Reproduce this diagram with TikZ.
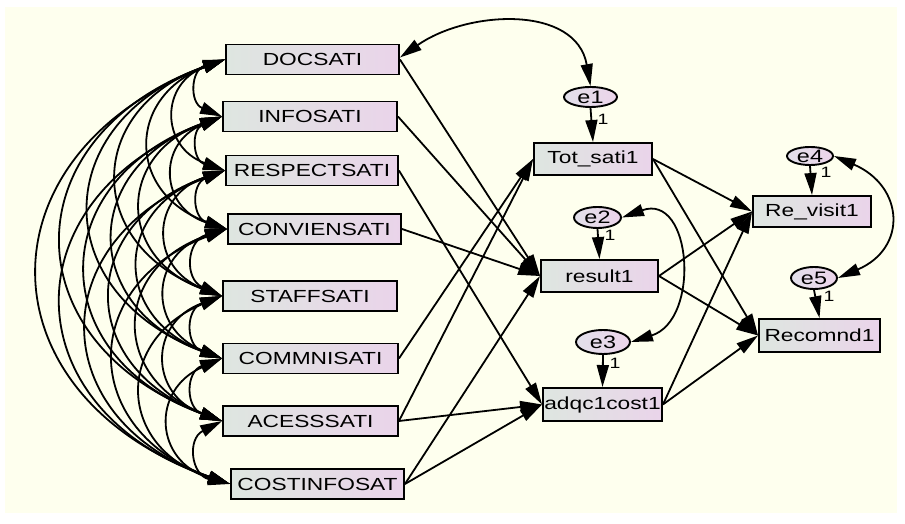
\documentclass[tikz,border=0pt]{standalone}
\usepackage{fontspec}
\usepackage{graphicx}
\setmainfont{Liberation Sans}
\usetikzlibrary{arrows.meta,shapes.geometric}
\definecolor{bg}{RGB}{254,255,238}
\definecolor{boxL}{RGB}{222,230,224}
\definecolor{boxR}{RGB}{234,212,234}
\definecolor{ellL}{RGB}{226,224,234}
\definecolor{ellR}{RGB}{236,212,234}
\newcommand\sx[1]{\scalebox{1.3}[1]{#1}}
\begin{document}
\begin{tikzpicture}[x=1pt,y=1pt,
  var/.style={draw=black, line width=1.9pt, left color=boxL, right color=boxR, minimum height=30pt, inner sep=0pt, font=\fontsize{17.5}{19}\selectfont},
  err/.style={ellipse, draw=black, line width=1.9pt, left color=ellL, right color=ellR, inner sep=0pt, font=\fontsize{18}{20}\selectfont},
  reg/.style={line width=1.8pt, -{Triangle[length=22pt,width=12pt]}},
  cov/.style={line width=1.8pt, {Triangle[length=22pt,width=12pt]}-{Triangle[length=22pt,width=12pt]}},
  one/.style={font=\fontsize{15}{16}\selectfont, inner sep=0pt}
]
\useasboundingbox (0,0) rectangle (905,524);
\fill[white] (0,0) rectangle (905,524);
\fill[bg] (5,11) rectangle (897,517);

% exogenous observed
\node[var, minimum width=173pt] (v1) at (312.5,464.5) {\sx{DOCSATI}};
\node[var, minimum width=174pt] (v2) at (310,407.5) {\sx{INFOSATI}};
\node[var, minimum width=172pt] (v3) at (312,353.5) {\sx{RESPECTSATI}};
\node[var, minimum width=173pt] (v4) at (314.5,295) {\sx{CONVIENSATI}};
\node[var, minimum width=174pt] (v5) at (310,228) {\sx{STAFFSATI}};
\node[var, minimum width=175pt] (v6) at (310.5,165.5) {\sx{COMMNISATI}};
\node[var, minimum width=175pt] (v7) at (310.5,103) {\sx{ACESSSATI}};
\node[var, minimum width=173pt] (v8) at (317.5,40) {\sx{COSTINFOSAT}};

% endogenous
\node[var, minimum width=118pt, minimum height=32pt] (tot) at (593,365) {\sx{Tot\_sati1}};
\node[var, minimum width=117pt, minimum height=32pt] (res) at (599.5,248) {\sx{result1}};
\node[var, minimum width=119pt, minimum height=33pt] (adq) at (602.5,119.5) {\sx{adqc1cost1}};
\node[var, minimum width=118pt, minimum height=31pt] (rev) at (812,312.5) {\sx{Re\_visit1}};
\node[var, minimum width=121pt, minimum height=33pt] (rec) at (819.5,188.5) {\sx{Recomnd1}};

% errors
\node[err, minimum width=53pt, minimum height=20pt] (e1) at (590.5,427) {\sx{e1}};
\node[err, minimum width=47pt, minimum height=21pt] (e2) at (597.5,306.5) {\sx{e2}};
\node[err, minimum width=54pt, minimum height=24pt] (e3) at (603,182) {\sx{e3}};
\node[err, minimum width=46pt, minimum height=18pt] (e4) at (810,368) {\sx{e4}};
\node[err, minimum width=46pt, minimum height=22pt] (e5) at (814,246) {\sx{e5}};

% covariances among exogenous
\foreach \i in {1,...,7}{
  \pgfmathtruncatemacro\s{\i+1}
  \foreach \j in {\s,...,8}{
    \draw[cov] (v\i.west) to[bend right=70, looseness=1.6] (v\j.west);
  }
}

% other covariances
\draw[cov] ([yshift=2pt]v1.east) to[out=35, in=100, looseness=1.1] (e1.north);
\draw[cov] (e2.east) .. controls +(70,25) and +(70,22) .. (e3.east);
\draw[cov] (e4.east) .. controls +(70,-30) and +(70,30) .. (e5.east);

% error paths
\draw[reg] (e1.south) -- (tot.north);
\draw[reg] (e2.south) -- (res.north);
\draw[reg] (e3.south) -- (adq.north);
\draw[reg] (e4.south) -- (rev.north);
\draw[reg] (e5.south) -- (rec.north);
\node[one] (l1) at (603,405) {\sx{1}};
\node[one] (l2) at (610,289) {\sx{1}};
\node[one] (l3) at (615,161) {\sx{1}};
\node[one] (l4) at (826,352) {\sx{1}};
\node[one] (l5) at (829,228) {\sx{1}};

% regression paths left
\draw[reg] (v1.east) -- (res.west);
\draw[reg] (v2.east) -- (res.west);
\draw[reg] (v4.east) -- (res.west);
\draw[reg] (v8.east) -- (res.west);
\draw[reg] (v6.east) -- (tot.west);
\draw[reg] (v7.east) -- (tot.west);
\draw[reg] (v3.east) -- (adq.west);
\draw[reg] (v7.east) -- (adq.west);
\draw[reg] (v8.east) -- (adq.west);

% regression paths right
\draw[reg] (tot.east) -- (rev.west);
\draw[reg] (tot.east) -- (rec.west);
\draw[reg] (res.east) -- (rev.west);
\draw[reg] (res.east) -- (rec.west);
\draw[reg] (adq.east) -- (rev.west);
\draw[reg] (adq.east) -- (rec.west);
\end{tikzpicture}
\end{document}
